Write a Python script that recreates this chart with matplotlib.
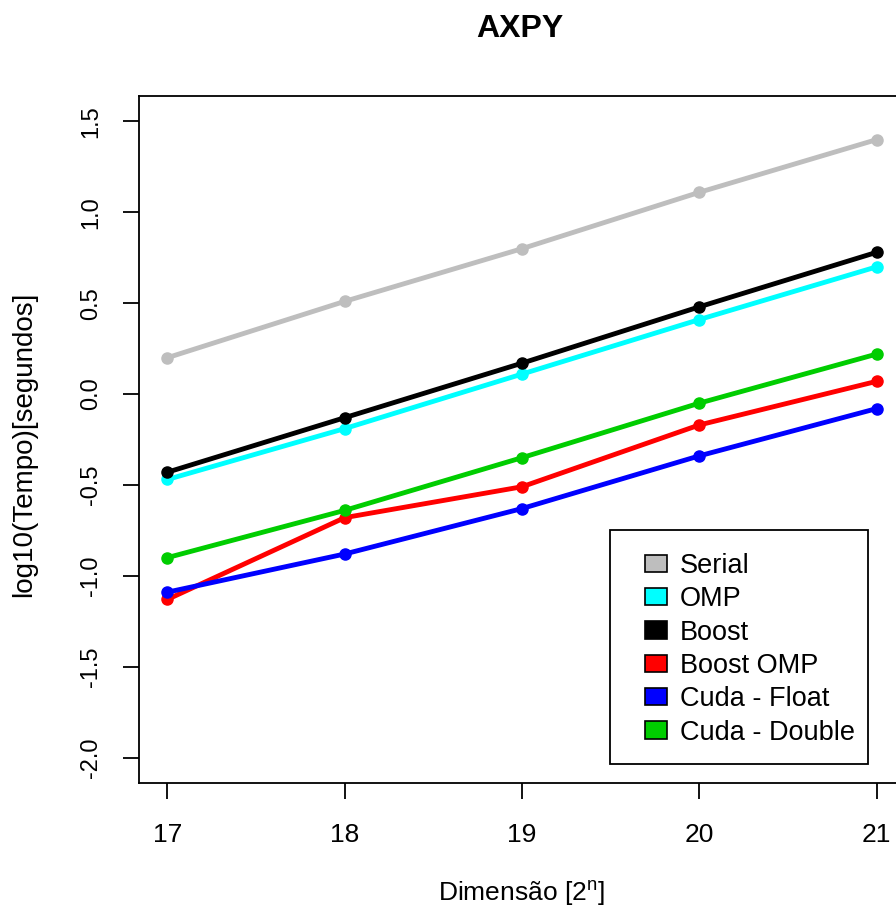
import matplotlib
matplotlib.use("Agg")
import matplotlib.pyplot as plt
from matplotlib.patches import Patch, Rectangle

# x = expoente n da dimensao 2^n
dims = [17, 18, 19, 20, 21]
serial = [0.20, 0.51, 0.80, 1.11, 1.40]
omp = [-0.47, -0.19, 0.11, 0.41, 0.70]
boost = [-0.43, -0.13, 0.17, 0.48, 0.78]
boost_omp = [-1.13, -0.68, -0.51, -0.17, 0.07]
cuda_float = [-1.09, -0.88, -0.63, -0.34, -0.08]
cuda_double = [-0.90, -0.64, -0.35, -0.05, 0.22]

labels = ["Serial", "OMP", "Boost", "Boost OMP", "Cuda - Float", "Cuda - Double"]
colors = ["#BEBEBE", "#00FFFF", "#000000", "#FF0000", "#0000FF", "#00CD00"]
series = [serial, omp, boost, boost_omp, cuda_float, cuda_double]
yticks = [-2.0, -1.5, -1.0, -0.5, 0.0, 0.5, 1.0, 1.5]

plt.rcParams['font.family'] = ['Liberation Sans', 'DejaVu Sans']

W, H = 896, 911
fig = plt.figure(figsize=(W / 100, H / 100), dpi=100)
ax = fig.add_axes([139 / W, 1 - 783 / H, (905 - 139) / W, (783 - 96) / H])

for vals, c in zip(series, colors):
    ax.plot(dims, vals, color=c, lw=3.5, marker='o', markersize=8)

ax.set_xlim(16.84, 21.16)
ax.set_ylim(-2.14, 1.64)
ax.set_xticks(dims)
ax.set_yticks(yticks)
ax.set_yticklabels([f"{v:.1f}" for v in yticks], rotation=90, va='center', fontsize=17)
ax.set_xticklabels([str(d) for d in dims], fontsize=19)
ax.tick_params(direction='out', length=11.5, width=1.3)
ax.tick_params(axis='x', pad=17)
ax.tick_params(axis='y', pad=15)
for s in ax.spines.values():
    s.set_linewidth(1.3)

fig.text(520 / W, 1 - 29 / H, "AXPY", ha='center', va='center', fontsize=23, fontweight='bold')
fig.text(521 / W, 1 - 893 / H, r"Dimensão [2$^{\mathregular{n}}$]", ha='center', va='center',
         fontsize=19)
fig.text(24 / W, 1 - 444 / H, "log10(Tempo)[segundos]", rotation=90, ha='center', va='center',
         fontsize=20)

# legenda: caixa desenhada a parte (padding assimetrico como no R)
handles = [Patch(facecolor=c, edgecolor='black', lw=1.2) for c in colors]
leg = fig.legend(handles, labels, loc='upper left', bbox_to_anchor=(645 / W, 1 - 553 / H),
                 fontsize=19.5, frameon=False, borderpad=0, labelspacing=0.27,
                 handlelength=0.8, handleheight=0.6, handletextpad=0.5, borderaxespad=0)
fig.patches.append(Rectangle((610 / W, 1 - 764 / H), 258 / W, 234 / H, transform=fig.transFigure,
                             facecolor='none', edgecolor='black', lw=1.3))

fig.savefig("out.png", dpi=100)
